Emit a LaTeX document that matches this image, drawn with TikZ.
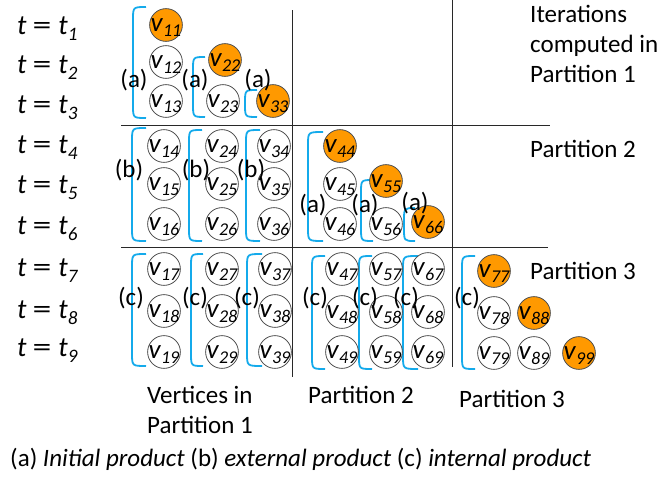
\documentclass[tikz,border=0pt]{standalone}
\usepackage{fontspec}
\usepackage{graphicx}
\setmainfont{Carlito}
\definecolor{vorange}{RGB}{255,153,0}
\definecolor{circgray}{RGB}{80,80,80}
\definecolor{brkblue}{RGB}{20,170,235}
\definecolor{linegray}{RGB}{40,40,40}
\newcommand\vsub[1]{v\hspace{0.3pt}{\fontsize{18}{18}\selectfont\raisebox{-5pt}{#1}}}
\newcommand\tlabel[1]{{\itshape t}\hspace{6pt}\scalebox{1.35}[1]{=}\hspace{7pt}{\itshape t}{\fontsize{19}{19}\selectfont\itshape\raisebox{-6pt}{#1}}}
\newcommand\pbrack[4]{\draw[brk] (#2,#3) .. controls (#1,#3) and (#1,#3) .. (#1,#3+13) -- (#1,#4-13) .. controls (#1,#4) and (#1,#4) .. (#2,#4);}
\tikzset{
  vx/.style={circle, draw=circgray, line width=0.8pt, minimum size=32pt, inner sep=0pt,
    font=\fontsize{27}{27}\selectfont\itshape, text height=12pt, text depth=0pt},
  vo/.style={vx, fill=vorange},
  brk/.style={draw=brkblue, line width=1.8pt},
  lab/.style={font=\fontsize{25}{28}\selectfont, inner sep=0pt, anchor=base},
  txt/.style={font=\fontsize{25}{30}\selectfont, inner sep=0pt, anchor=base west, align=left},
  tlab/.style={font=\fontsize{28}{28}\selectfont, inner sep=0pt, anchor=base west},
  sep/.style={draw=linegray, line width=1pt},
}
\begin{document}
\begin{tikzpicture}[x=1pt,y=-1pt]
\useasboundingbox (0,0) rectangle (659,482);
% partition separators
\draw[sep] (121,125) -- (550,125);
\draw[sep] (121,247) -- (548,247);
\draw[sep] (292,10) -- (292,377);
\draw[sep] (452,0) -- (452,367);
% time labels
\node[tlab] (t1) at (17,34) {\tlabel{1}};
\node[tlab] (t2) at (17,73) {\tlabel{2}};
\node[tlab] (t3) at (17,113) {\tlabel{3}};
\node[tlab] (t4) at (17,153) {\tlabel{4}};
\node[tlab] (t5) at (17,193) {\tlabel{5}};
\node[tlab] (t6) at (17,234) {\tlabel{6}};
\node[tlab] (t7) at (17,276) {\tlabel{7}};
\node[tlab] (t8) at (17,318) {\tlabel{8}};
\node[tlab] (t9) at (17,356) {\tlabel{9}};
% brackets
\pbrack{133}{146}{7}{118}
\pbrack{193}{205}{57}{117}
\pbrack{245}{257}{90}{117}
\pbrack{132}{146}{128}{241}
\pbrack{189}{202}{130}{241}
\pbrack{246}{260}{130}{241}
\pbrack{308}{323}{132}{241}
\pbrack{361}{373}{180}{241}
\pbrack{404}{415}{208}{241}
\pbrack{132}{146}{254}{366}
\pbrack{191}{203}{254}{366}
\pbrack{247}{262}{254}{366}
\pbrack{312}{325}{256}{369}
\pbrack{359}{372}{256}{369}
\pbrack{403}{418}{256}{369}
\pbrack{462}{475}{256}{369}
% vertices: partition 1
\node[vo] (v11) at (166,25) {\vsub{11}};
\node[vx] (v12) at (166,62) {\vsub{12}};
\node[vx] (v13) at (166,101) {\vsub{13}};
\node[vo] (v22) at (225,60) {\vsub{22}};
\node[vx] (v23) at (223,101) {\vsub{23}};
\node[vo] (v33) at (273,101) {\vsub{33}};
\node[vx] (v14) at (164,146) {\vsub{14}};
\node[vx] (v15) at (164,184) {\vsub{15}};
\node[vx] (v16) at (164,224) {\vsub{16}};
\node[vx] (v24) at (222,146) {\vsub{24}};
\node[vx] (v25) at (222,184) {\vsub{25}};
\node[vx] (v26) at (222,224) {\vsub{26}};
\node[vx] (v34) at (274,146) {\vsub{34}};
\node[vx] (v35) at (274,184) {\vsub{35}};
\node[vx] (v36) at (274,224) {\vsub{36}};
\node[vx] (v17) at (164,269) {\vsub{17}};
\node[vx] (v18) at (164,311) {\vsub{18}};
\node[vx] (v19) at (164,352) {\vsub{19}};
\node[vx] (v27) at (222,269) {\vsub{27}};
\node[vx] (v28) at (222,311) {\vsub{28}};
\node[vx] (v29) at (222,352) {\vsub{29}};
\node[vx] (v37) at (275,269) {\vsub{37}};
\node[vx] (v38) at (275,311) {\vsub{38}};
\node[vx] (v39) at (275,352) {\vsub{39}};
% partition 2
\node[vo] (v44) at (340,146) {\vsub{44}};
\node[vx] (v45) at (340,184) {\vsub{45}};
\node[vx] (v46) at (340,224) {\vsub{46}};
\node[vo] (v55) at (386,181) {\vsub{55}};
\node[vx] (v56) at (386,224) {\vsub{56}};
\node[vo] (v66) at (428,222) {\vsub{66}};
\node[vx] (v47) at (342,269) {\vsub{47}};
\node[vx] (v48) at (342,312) {\vsub{48}};
\node[vx] (v49) at (342,352) {\vsub{49}};
\node[vx] (v57) at (386,269) {\vsub{57}};
\node[vx] (v58) at (386,312) {\vsub{58}};
\node[vx] (v59) at (386,352) {\vsub{59}};
\node[vx] (v67) at (428,269) {\vsub{67}};
\node[vx] (v68) at (428,312) {\vsub{68}};
\node[vx] (v69) at (428,352) {\vsub{69}};
% partition 3
\node[vo] (v77) at (494,271) {\vsub{77}};
\node[vx] (v78) at (494,313) {\vsub{78}};
\node[vo] (v88) at (534,313) {\vsub{88}};
\node[vx] (v79) at (494,353) {\vsub{79}};
\node[vx] (v89) at (534,353) {\vsub{89}};
\node[vo] (v99) at (579,353) {\vsub{99}};
% bracket labels
\node[lab] (la1) at (134,87) {(a)};
\node[lab] (la2) at (195,87) {(a)};
\node[lab] (la3) at (258,87) {(a)};
\node[lab] (lb1) at (129,177) {(b)};
\node[lab] (lb2) at (196,177) {(b)};
\node[lab] (lb3) at (251,177) {(b)};
\node[lab] (la4) at (313,212) {(a)};
\node[lab] (la5) at (365,212) {(a)};
\node[lab] (la6) at (415,210) {(a)};
\node[lab] (lc1) at (131,305) {(c)};
\node[lab] (lc2) at (195,305) {(c)};
\node[lab] (lc3) at (247,305) {(c)};
\node[lab] (lc4) at (315,305) {(c)};
\node[lab] (lc5) at (365,305) {(c)};
\node[lab] (lc6) at (406,305) {(c)};
\node[lab] (lc7) at (467,305) {(c)};
% texts
\node[txt] (it) at (530,82) {Iterations\\computed in\\Partition 1};
\node[txt] (p2r) at (530,157) {Partition 2};
\node[txt] (p3r) at (530,279) {Partition 3};
\node[txt] (vp1) at (147,433) {Vertices in\\Partition 1};
\node[txt] (p2b) at (308,403) {Partition 2};
\node[txt] (p3b) at (459,407) {Partition 3};
\node[txt] (leg) at (10,466) {(a) \textit{Initial product} (b) \textit{external product} (c) \textit{internal product}};
\end{tikzpicture}
\end{document}
